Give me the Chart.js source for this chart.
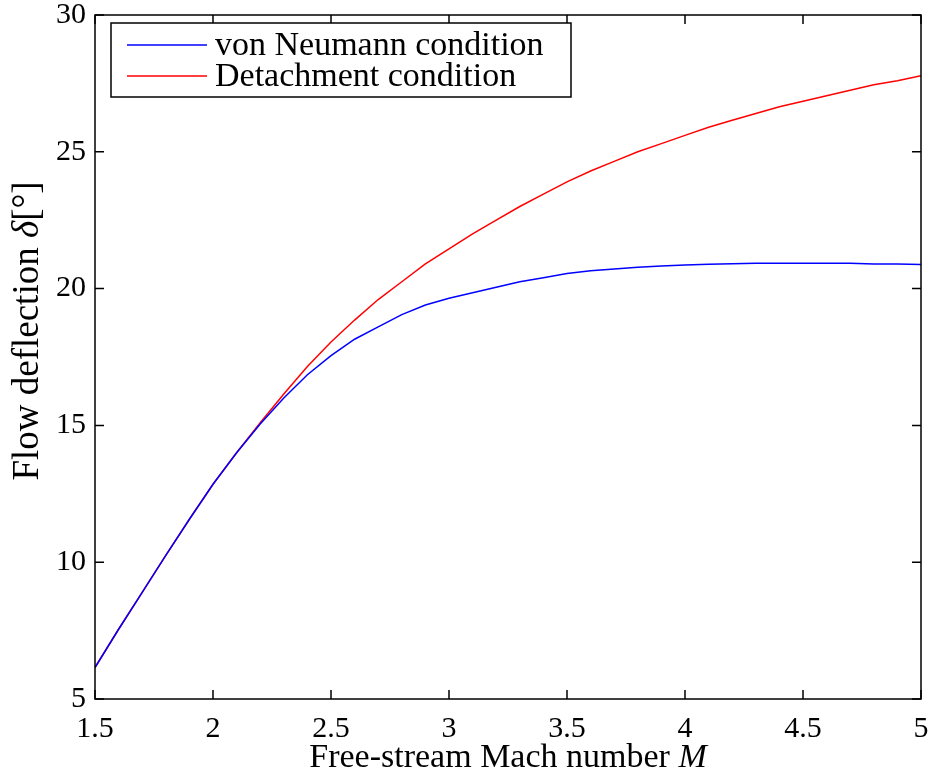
<!DOCTYPE html>
<html>
<head>
<meta charset="utf-8">
<script src="https://cdn.jsdelivr.net/npm/chart.js"></script>
<style>
  html, body { margin: 0; padding: 0; background: #fff; }
  #wrap { width: 930px; height: 774px; }
</style>
</head>
<body>
<div id="wrap"><canvas id="chart" width="930" height="774"></canvas></div>
<script>
// Mach numbers (x) and flow deflection angles in degrees
const machNumbers = [1.5, 1.6, 1.7, 1.8, 1.9, 2.0, 2.1, 2.2, 2.3, 2.4, 2.5, 2.6, 2.7, 2.8, 2.9, 3.0,
  3.1, 3.2, 3.3, 3.4, 3.5, 3.6, 3.7, 3.8, 3.9, 4.0, 4.1, 4.2, 4.3, 4.4, 4.5, 4.6, 4.7, 4.8, 4.9, 5.0];
const vonNeumann = [6.15, 7.55, 8.9, 10.25, 11.57, 12.85, 14.0, 15.05, 16.0, 16.85, 17.55, 18.15, 18.6, 19.05, 19.4, 19.65,
  19.85, 20.05, 20.25, 20.4, 20.55, 20.65, 20.72, 20.78, 20.83, 20.86, 20.89, 20.91, 20.93, 20.93, 20.93, 20.93, 20.93, 20.9, 20.9, 20.88];
const detachment = [6.15, 7.55, 8.9, 10.25, 11.57, 12.85, 14.0, 15.1, 16.15, 17.15, 18.05, 18.85, 19.6, 20.25, 20.9, 21.45,
  22.0, 22.5, 23.0, 23.45, 23.9, 24.3, 24.65, 25.0, 25.3, 25.6, 25.9, 26.15, 26.4, 26.65, 26.85, 27.05, 27.25, 27.45, 27.6, 27.78];
const xTicks = [1.5, 2, 2.5, 3, 3.5, 4, 4.5, 5];
const yTicks = [5, 10, 15, 20, 25, 30];
const seriesNames = ['von Neumann condition', 'Detachment condition'];
const seriesColors = ['#0000ff', '#ff0000'];

const FONT = '"Liberation Serif", "Times New Roman", serif';

// draw text made of several parts (some italic), centred on x
function drawParts(ctx, parts, x, y) {
  let total = 0;
  parts.forEach(p => { ctx.font = p.font; p.w = ctx.measureText(p.text).width; total += p.w; });
  let cx = x - total / 2;
  parts.forEach(p => { ctx.font = p.font; ctx.fillText(p.text, cx, y); cx += p.w; });
}

const framePlugin = {
  id: 'frame',
  afterDraw(chart) {
    const { ctx, chartArea: a, scales: { x, y } } = chart;
    ctx.save();
    ctx.strokeStyle = '#000';
    ctx.lineWidth = 1.5;
    ctx.strokeRect(a.left, a.top, a.right - a.left, a.bottom - a.top);

    // inward ticks on all four sides
    const len = 9;
    ctx.beginPath();
    x.ticks.forEach(t => {
      const px = x.getPixelForValue(t.value);
      ctx.moveTo(px, a.bottom); ctx.lineTo(px, a.bottom - len);
      ctx.moveTo(px, a.top); ctx.lineTo(px, a.top + len);
    });
    y.ticks.forEach(t => {
      const py = y.getPixelForValue(t.value);
      ctx.moveTo(a.left, py); ctx.lineTo(a.left + len, py);
      ctx.moveTo(a.right, py); ctx.lineTo(a.right - len, py);
    });
    ctx.stroke();

    // legend box
    ctx.fillStyle = '#fff';
    ctx.fillRect(111, 23, 460, 74);
    ctx.strokeRect(111, 23, 460, 74);
    ctx.textBaseline = 'middle';
    ctx.textAlign = 'left';
    seriesNames.forEach((name, i) => {
      const ly = 45 + i * 31;
      ctx.strokeStyle = seriesColors[i];
      ctx.lineWidth = 1.5;
      ctx.beginPath();
      ctx.moveTo(127, ly); ctx.lineTo(207, ly);
      ctx.stroke();
      ctx.fillStyle = '#000';
      ctx.font = '34px ' + FONT;
      ctx.fillText(name, 215, ly + 1);
    });

    // axis titles
    ctx.fillStyle = '#000';
    ctx.textBaseline = 'middle';
    drawParts(ctx, [
      { text: 'Free-stream Mach number ', font: '34px ' + FONT },
      { text: 'M', font: 'italic 34px ' + FONT }
    ], (a.left + a.right) / 2, 758);

    ctx.translate(28, 331);
    ctx.rotate(-Math.PI / 2);
    drawParts(ctx, [
      { text: 'Flow deflection ', font: '37px ' + FONT },
      { text: 'δ', font: 'italic 37px ' + FONT },
      { text: '[°]', font: '37px ' + FONT }
    ], 0, 0);
    ctx.restore();
  }
};

const ctx = document.getElementById('chart').getContext('2d');
new Chart(ctx, {
  type: 'line',
  data: {
    labels: machNumbers,
    datasets: [
      {
        label: seriesNames[0],
        data: machNumbers.map((m, i) => ({ x: m, y: vonNeumann[i] })),
        borderColor: seriesColors[0],
        borderWidth: 1.5,
        pointRadius: 0,
        tension: 0
      },
      {
        label: seriesNames[1],
        data: machNumbers.map((m, i) => ({ x: m, y: detachment[i] })),
        borderColor: seriesColors[1],
        borderWidth: 1.5,
        pointRadius: 0,
        tension: 0
      }
    ]
  },
  options: {
    responsive: false,
    animation: false,
    layout: { padding: { left: 0, right: 9, top: 15, bottom: 0 } },
    plugins: {
      legend: { display: false },
      tooltip: { enabled: false }
    },
    scales: {
      x: {
        type: 'linear',
        min: 1.5,
        max: 5,
        afterBuildTicks: s => { s.ticks = xTicks.map(v => ({ value: v })); },
        afterFit: s => { s.height = 75; s.paddingLeft = 0; s.paddingRight = 0; },
        grid: { display: false, drawTicks: false },
        border: { display: false },
        ticks: {
          color: '#000',
          padding: 12,
          font: { family: FONT, size: 30 },
          callback: v => String(v)
        }
      },
      y: {
        type: 'linear',
        min: 5,
        max: 30,
        afterBuildTicks: s => { s.ticks = yTicks.map(v => ({ value: v })); },
        afterFit: s => { s.width = 95; s.paddingTop = 0; s.paddingBottom = 0; },
        grid: { display: false, drawTicks: false },
        border: { display: false },
        ticks: {
          color: '#000',
          padding: 9,
          font: { family: FONT, size: 30 },
          callback: v => String(v)
        }
      }
    }
  },
  plugins: [framePlugin]
});
</script>
</body>
</html>
